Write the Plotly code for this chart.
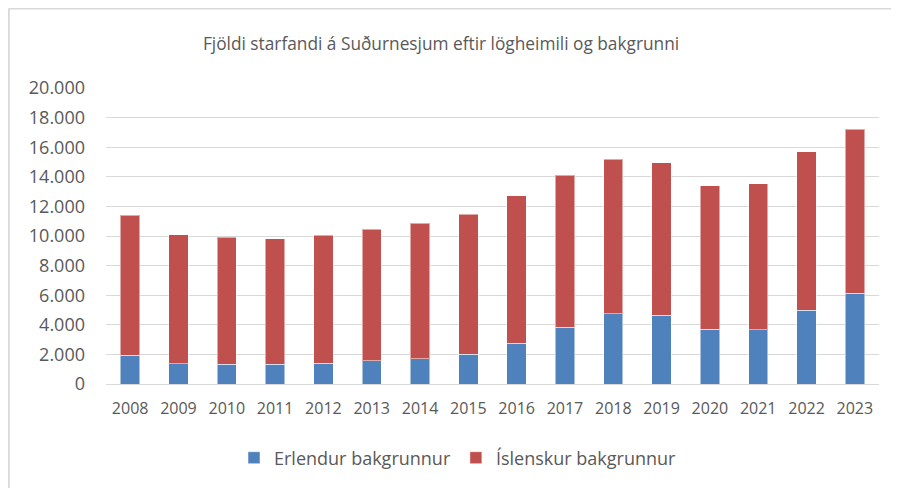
import plotly.graph_objects as go

years = ["2008", "2009", "2010", "2011", "2012", "2013", "2014", "2015",
         "2016", "2017", "2018", "2019", "2020", "2021", "2022", "2023"]
totals = [11400, 10100, 9900, 9800, 10050, 10450, 10850, 11480,
          12720, 14120, 15180, 14950, 13400, 13530, 15680, 17200]
erlendur = [1950, 1360, 1330, 1330, 1400, 1560, 1720, 2010,
            2740, 3840, 4750, 4650, 3700, 3680, 4990, 6120]
islenskur = [t - e for t, e in zip(totals, erlendur)]

title_text = "Fjöldi starfandi á Suðurnesjum eftir lögheimili og bakgrunni"
y_ticks = [0, 2000, 4000, 6000, 8000, 10000, 12000, 14000, 16000, 18000, 20000]

FONT = "Open Sans"
TXT = "#595959"

fig = go.Figure()
fig.add_trace(go.Bar(x=years, y=erlendur, name="Erlendur bakgrunnur",
                     marker=dict(color="#4F81BD", line=dict(color="rgba(255,255,255,0.5)", width=1))))
fig.add_trace(go.Bar(x=years, y=islenskur, name="Íslenskur bakgrunnur",
                     marker=dict(color="#C0504D", line=dict(color="rgba(255,255,255,0.5)", width=1))))

# page body has an 8px margin, so the figure origin is at screen (8, 8)
OFF = 8
W, H = 899 - OFF, 488 - OFF
L, R, T, B = 105.7 - OFF, 20, 88 - OFF, 104
pw, ph = W - L - R, H - T - B

def px(x):
    return (x - OFF - L) / pw

def py(y):
    return (H - B - (y - OFF)) / ph

fig.update_layout(
    width=W, height=H,
    barmode="stack", bargap=0.6,
    separators=",.",
    plot_bgcolor="white", paper_bgcolor="white",
    margin=dict(l=L, r=R, t=T, b=B, autoexpand=False),
    font=dict(family=FONT, color=TXT, size=14),
    title=dict(text=title_text, x=(441 - OFF) / W, xanchor="center", xref="container",
               y=1 - (44 - OFF) / H, yanchor="middle", yref="container",
               font=dict(size=17.3, color=TXT, family=FONT)),
    xaxis=dict(showgrid=False, showline=False, ticks="", ticklabelstandoff=13,
               tickfont=dict(size=16, color=TXT)),
    yaxis=dict(range=[0, 20000], tickvals=y_ticks, tickformat=",d",
               showgrid=True, gridcolor="#d9d9d9", gridwidth=1.3,
               zeroline=True, zerolinecolor="#d9d9d9", zerolinewidth=1.3,
               showline=False, ticks="", ticklabelstandoff=20,
               tickfont=dict(size=18, color=TXT)),
    legend=dict(orientation="h", x=(458 - OFF) / W, xanchor="center", xref="container",
                y=1 - (458 - OFF) / H, yanchor="middle", yref="container",
                font=dict(size=18, color=TXT), traceorder="normal"),
    shapes=[
        dict(type="line", xref="paper", yref="paper", x0=px(8.5), x1=px(905),
             y0=py(8.5), y1=py(8.5), line=dict(color="#d9d9d9", width=2)),
        dict(type="line", xref="paper", yref="paper", x0=px(8.5), x1=px(8.5),
             y0=py(8.5), y1=py(495), line=dict(color="#d9d9d9", width=2)),
    ],
)

fig.write_html("out.html")
